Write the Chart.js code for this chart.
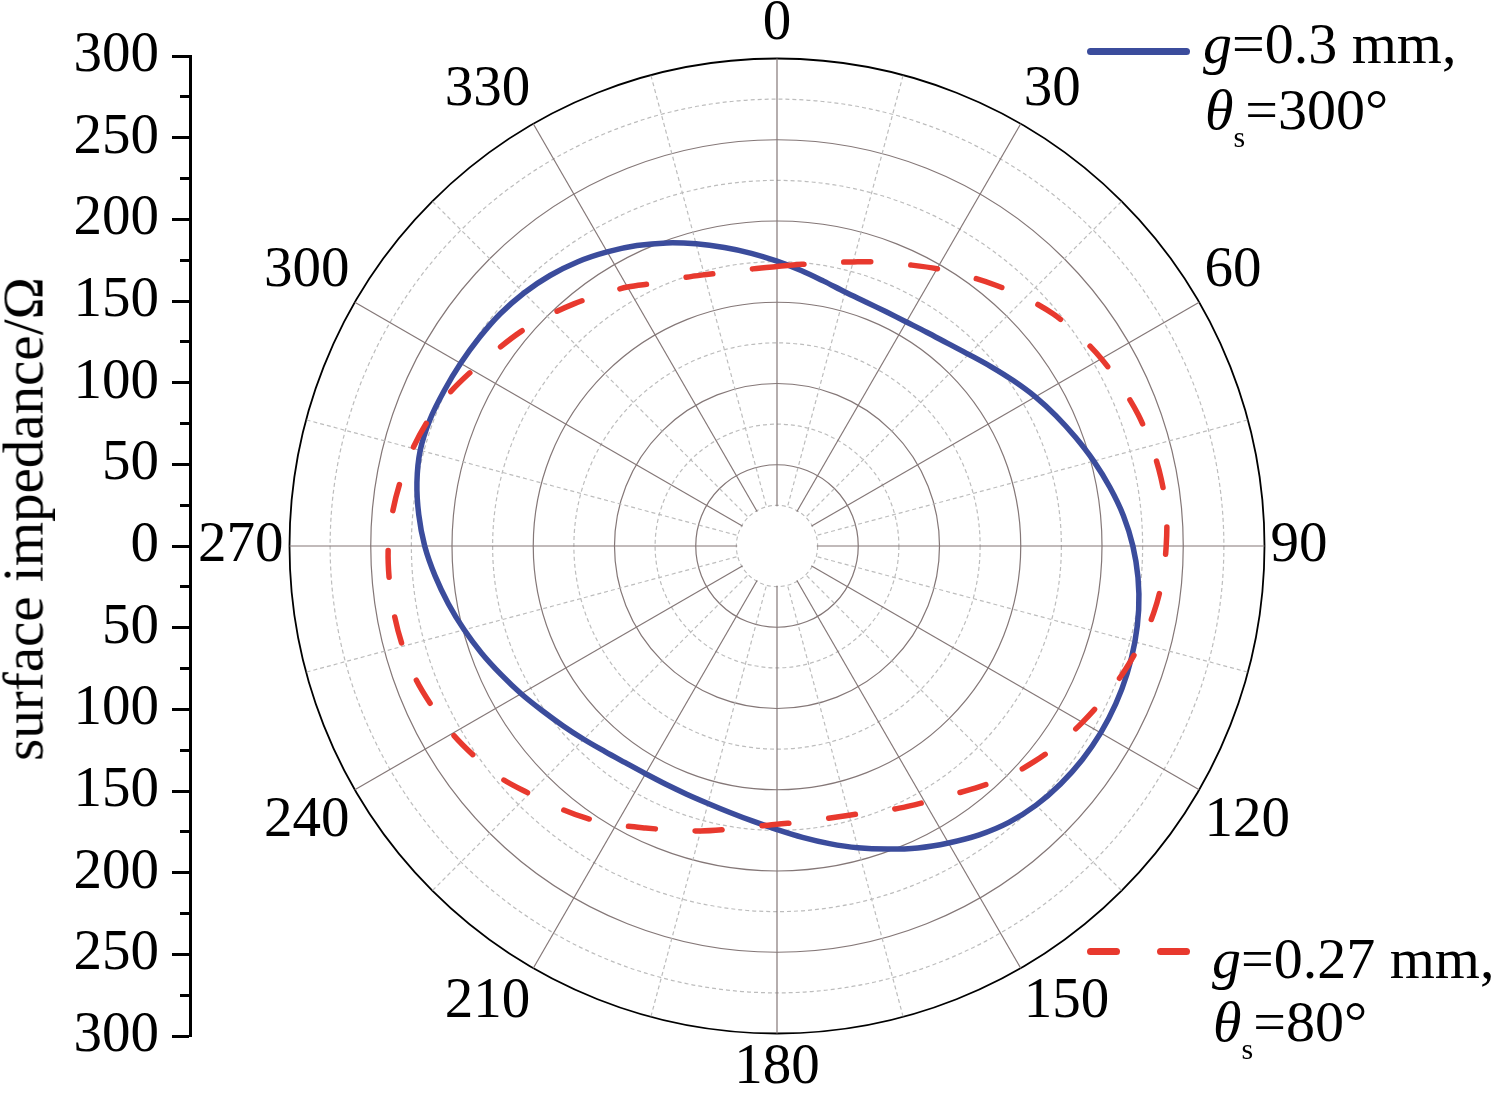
<!DOCTYPE html>
<html>
<head>
<meta charset="utf-8">
<script src="https://cdn.jsdelivr.net/npm/chart.js@4.4.1/dist/chart.umd.min.js"></script>
<style>
html,body{margin:0;padding:0;background:#fff;width:1500px;height:1093px;overflow:hidden;position:relative;font-family:"Liberation Serif","Times New Roman",serif;color:#000;}
#axisCanvas{position:absolute;left:0;top:0;}
#polarCanvas{position:absolute;left:184px;top:-33px;}
.ytitle{position:absolute;left:23px;top:519px;transform:translate(-50%,-50%) rotate(-90deg);font-size:57px;line-height:1;white-space:nowrap;}
.leg{position:absolute;font-size:58px;line-height:1;white-space:nowrap;}
.leg .sb{font-size:30px;position:relative;top:18px;}
.swatch{position:absolute;border-radius:4px;}
</style>
</head>
<body>
<canvas id="axisCanvas" width="200" height="1093"></canvas>
<canvas id="polarCanvas" width="1158" height="1158"></canvas>
<div class="ytitle">surface impedance/Ω</div>

<div class="swatch" style="left:1087px;top:48px;width:103px;height:7px;background:#3b4c9c"></div>
<div class="leg" style="left:1203px;top:15px"><i>g</i>=0.3 mm,</div>
<div class="leg" style="left:1205px;top:81px"><i>θ</i><span class="sb">s</span>=300°</div>

<div class="swatch" style="left:1087px;top:948px;width:33px;height:7px;background:#e8392e"></div>
<div class="swatch" style="left:1157px;top:948px;width:33px;height:7px;background:#e8392e"></div>
<div class="leg" style="left:1212px;top:930px"><i>g</i>=0.27 mm,</div>
<div class="leg" style="left:1213px;top:993px"><i>θ</i><span class="sb">s</span>=80°</div>

<script>
// ---------------- data ----------------
const angleLabels = ['0','5','10','15','20','25','30','35','40','45','50','55',
  '60','65','70','75','80','85','90','95','100','105','110','115',
  '120','125','130','135','140','145','150','155','160','165','170','175',
  '180','185','190','195','200','205','210','215','220','225','230','235',
  '240','245','250','255','260','265','270','275','280','285','290','295',
  '300','305','310','315','320','325','330','335','340','345','350','355'];

// g = 0.3 mm, θs = 300°
const seriesBlue = [175.3,170.2,165.5,161.8,159.8,159,159.2,160.6,163,166.8,171.8,177.5,
  183.6,189.5,195.5,201.8,208,214,219,223,226,228,229.3,230,
  230,229.3,227.8,225.5,222,217,211,205,198.5,192.3,186,180,
  174.5,170,166.5,164,162.5,161.8,161.8,162.8,165,168.2,172,176.5,
  181.8,187.3,193.3,199.3,205.3,211.2,216.8,221.3,225,227.3,227.3,226,
  224.8,223.6,222.3,220.2,217.3,213.6,209,204,198.5,192.5,186.5,180.8];

// g = 0.27 mm, θs = 80°
const seriesRed = [172,174,177,181,186,191,197,203,209.5,216,222,226.5,
  230.5,233.5,236.5,238.5,240,240.5,239.5,238,235.5,231.5,227,222,
  217,212,206.5,200.5,193.5,187,182,178,174,171.5,170.5,170.5,
  171.2,173.5,177,181.5,186,191.5,198,204.5,210,215.5,222,226.5,
  230.8,234,237,238.5,239.3,239.5,239.2,237.5,235,232,228,222.5,
  216.3,210.5,205.5,200,194.5,189,184,178.5,175.3,172.8,171.3,171.2];

const radialMin = 0, radialMax = 300, radialStep = 25;
const sideAxisTicksMin = -300, sideAxisTicksMax = 300;

// ---------------- styles ----------------
const SOLID = '#847777';
const DASHED = '#bdbdbd';
const BLUE = '#3b4c9c';
const RED = '#e8392e';
const FONT = {family: '"Liberation Serif", "Times New Roman", serif', size: 57, lineHeight: 1};

const holePlugin = {
  id: 'hole',
  beforeDatasetsDraw(chart) {
    const s = chart.scales.r;
    const rr = s.getDistanceFromCenterForValue(radialStep);
    const ctx = chart.ctx;
    ctx.save();
    ctx.fillStyle = '#fff';
    ctx.beginPath();
    ctx.arc(s.xCenter, s.yCenter, rr - 0.8, 0, Math.PI * 2);
    ctx.fill();
    ctx.restore();
  }
};

new Chart(document.getElementById('polarCanvas'), {
  type: 'radar',
  data: {
    labels: angleLabels,
    datasets: [
      {label: 'g=0.3 mm, θs=300°', data: seriesBlue, borderColor: BLUE, borderWidth: 5.5,
       fill: false, pointRadius: 0, tension: 0.35, order: 1},
      {label: 'g=0.27 mm, θs=80°', data: seriesRed, borderColor: RED, borderWidth: 5.5,
       borderDash: [27, 40], borderCapStyle: 'round', fill: false, pointRadius: 0, tension: 0.35, order: 0}
    ]
  },
  options: {
    responsive: false,
    maintainAspectRatio: false,
    devicePixelRatio: 1,
    animation: false,
    events: [],
    layout: {padding: 0},
    plugins: {legend: {display: false}, tooltip: {enabled: false}, title: {display: false}},
    scales: {
      r: {
        min: radialMin, max: radialMax,
        startAngle: 0,
        ticks: {display: false, stepSize: radialStep},
        grid: {
          circular: true,
          color: (c) => c.tick.value === radialMax ? '#000' : (c.tick.value % 50 === 0 ? SOLID : DASHED),
          lineWidth: (c) => c.tick.value === radialMax ? 1.8 : 1.2
        },
        border: {
          dash: (c) => (c.tick && c.tick.value % 50 !== 0) ? [4, 3] : []
        },
        angleLines: {
          display: true,
          color: (c) => c.index % 6 === 0 ? SOLID : (c.index % 3 === 0 ? DASHED : 'rgba(0,0,0,0)'),
          lineWidth: (c) => c.index % 3 === 0 ? 1.2 : 0,
          borderDash: (c) => c.index % 6 === 0 ? [] : [4, 3]
        },
        pointLabels: {
          display: true,
          padding: 6,
          color: '#000',
          font: FONT,
          callback: (label, index) => index % 6 === 0 ? label : ''
        }
      }
    }
  },
  plugins: [holePlugin]
});

// left linear axis (mirrored radial scale)
new Chart(document.getElementById('axisCanvas'), {
  type: 'scatter',
  data: {datasets: []},
  options: {
    responsive: false,
    maintainAspectRatio: false,
    devicePixelRatio: 1,
    animation: false,
    events: [],
    layout: {padding: {top: 56, bottom: 57, left: 0, right: 4}},
    plugins: {legend: {display: false}, tooltip: {enabled: false}},
    scales: {
      x: {display: false, min: 0, max: 1},
      y: {
        position: 'left',
        min: sideAxisTicksMin, max: sideAxisTicksMax,
        afterFit: (s) => { s.width = 190; s.paddingTop = 0; s.paddingBottom = 0; },
        ticks: {
          stepSize: radialStep,
          autoSkip: false,
          padding: 13,
          color: '#000',
          font: FONT,
          callback: (v) => (v % 50 === 0 ? String(Math.abs(v)) : '')
        },
        grid: {
          drawOnChartArea: false,
          drawTicks: true,
          tickLength: 18,
          tickWidth: 3,
          tickColor: '#000',
          tickBorderDash: (c) => (c.tick && c.tick.value % 50 !== 0) ? [0, 8, 10, 100] : []
        },
        border: {display: true, width: 3, color: '#000'}
      }
    }
  }
});
</script>
</body>
</html>
